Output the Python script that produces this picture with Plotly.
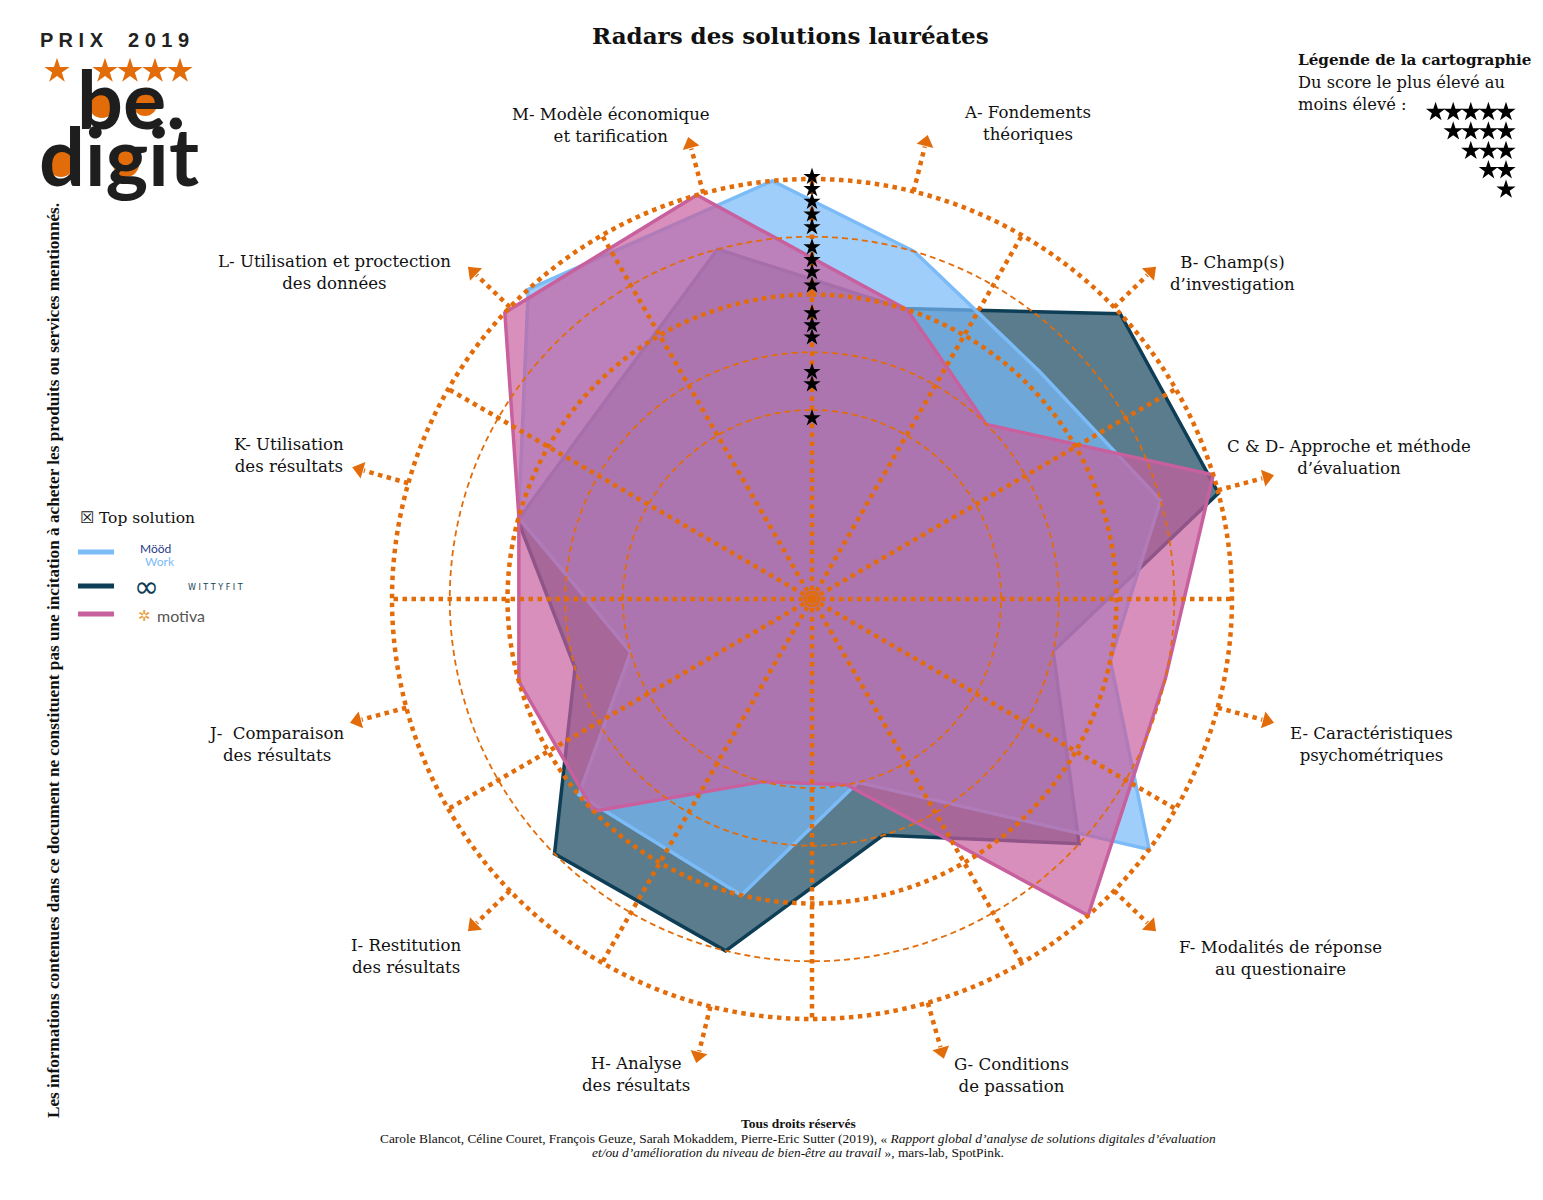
import plotly.graph_objects as go
import numpy as np

# page geometry: the html body adds an 8 px margin, so the figure is drawn from (8, 8)
OFF = 8
W, H = 1543 - OFF, 1200 - OFF
CX, CY = 812, 599            # centre of the radar in screen pixels (layout only)
PX_PER_UNIT = 57.75
R0 = -131.25 / PX_PER_UNIT   # radial value at the centre
RMAX = 6.3

# ---------------- data ----------------
axis_labels = [
    "A- Fondements<br>théoriques",
    "B- Champ(s)<br>d’investigation",
    "C & D- Approche et méthode<br>d’évaluation",
    "E- Caractéristiques<br>psychométriques",
    "F- Modalités de réponse<br>au questionaire",
    "G- Conditions<br>de passation",
    "H- Analyse<br>des résultats",
    "I- Restitution<br>des résultats",
    "J-  Comparaison<br>des résultats",
    "K- Utilisation<br>des résultats",
    "L- Utilisation et proctection<br>des données",
    "M- Modèle économique<br>et tarification",
]
axis_theta = [14, 46, 75, 105, 134, 164, 194, 226, 255, 286, 314, 345]
label_xy = [(1027, 123), (1232, 273), (1349, 457), (1371, 744), (1280, 958),
            (1011, 1075), (636, 1074), (406, 956), (276, 744), (289, 455),
            (334, 272), (611, 125)]

wittyfit_theta = [17.4, 47.2, 75.4, 102.2, 132.5, 163.3, 193.8, 225.3, 253.8, 285.0, 315.0, 344.9]
wittyfit_r = [3, 5, 5, 2, 4, 2, 4, 4, 2, 3, 2.7, 4]

moodwork_theta = [16.4, 45.0, 74.2, 101.6, 126.6, 166.0, 193.4, 230.0, 253.6, 285.5, 317.5, 354.6]
moodwork_r = [4, 3.3, 4, 3, 5, 1, 3, 3, 1, 3, 5, 5]

motiva_theta = [18.2, 45.0, 72.8, 102.7, 138.9, 169.5, 194.9, 225.8, 254.3, 285.7, 313.0, 344.1]
motiva_r = [3, 2, 5, 4, 5, 1, 1, 3, 3, 3, 5, 5]

ring_levels_thin = [1, 2, 4]
ring_levels_thick = [3, 5]
spoke_theta = [0, 30, 60, 90, 120, 150, 180, 210, 240, 270, 300, 330]
star_r = [5.04, 4.83, 4.61, 4.39, 4.17, 3.82, 3.60, 3.39, 3.16, 2.68, 2.47, 2.26, 1.66, 1.45, 0.86]

legend_star_counts = [5, 4, 3, 2, 1]

ORANGE = "#E36C0A"
C_WITTY_L, C_WITTY_F = "#0E3E55", "rgba(14,62,85,0.68)"
C_MOOD_L, C_MOOD_F = "#7BBBF7", "rgba(120,185,250,0.70)"
C_MOT_L, C_MOT_F = "#C8609E", "rgba(200,96,158,0.70)"

fig = go.Figure()

def closed(a):
    return list(a) + [a[0]]

# polygons (drawing order: wittyfit, moodwork, motiva)
for th, rr, lc, fc, nm in [
    (wittyfit_theta, wittyfit_r, C_WITTY_L, C_WITTY_F, "WITTYFIT"),
    (moodwork_theta, moodwork_r, C_MOOD_L, C_MOOD_F, "Mööd Work"),
    (motiva_theta, motiva_r, C_MOT_L, C_MOT_F, "motiva"),
]:
    fig.add_trace(go.Scatterpolar(theta=closed(th), r=closed(rr), mode="lines",
                                  fill="toself", fillcolor=fc,
                                  line=dict(color=lc, width=3.5), name=nm,
                                  showlegend=False, hoverinfo="skip"))

circ = np.linspace(0, 360, 361)
for lv in ring_levels_thin:
    fig.add_trace(go.Scatterpolar(theta=circ, r=[lv] * len(circ), mode="lines",
                                  line=dict(color=ORANGE, width=1.8, dash="6px,4px"),
                                  showlegend=False, hoverinfo="skip"))
for lv in ring_levels_thick:
    fig.add_trace(go.Scatterpolar(theta=circ, r=[lv] * len(circ), mode="lines",
                                  line=dict(color=ORANGE, width=4.5, dash="dot"),
                                  showlegend=False, hoverinfo="skip"))
for t in spoke_theta:
    fig.add_trace(go.Scatterpolar(theta=[t, t], r=[R0, 5], mode="lines",
                                  line=dict(color=ORANGE, width=4.5, dash="dot"),
                                  showlegend=False, hoverinfo="skip"))
# arrows towards the axis labels
for t in axis_theta:
    fig.add_trace(go.Scatterpolar(theta=[t, t], r=[5.0, 5.8], mode="lines",
                                  line=dict(color=ORANGE, width=4.5, dash="dot"),
                                  showlegend=False, hoverinfo="skip"))
fig.add_trace(go.Scatterpolar(theta=axis_theta, r=[5.88] * len(axis_theta), mode="markers",
                              marker=dict(symbol="triangle-up", size=15, color=ORANGE,
                                          angle=axis_theta),
                              showlegend=False, hoverinfo="skip"))
# centre ring
fig.add_trace(go.Scatterpolar(theta=[0], r=[R0], mode="markers",
                              marker=dict(symbol="circle-open", size=14, color=ORANGE,
                                          line=dict(width=3, color=ORANGE)),
                              showlegend=False, hoverinfo="skip"))
# stars on the vertical axis
fig.add_trace(go.Scatterpolar(theta=[0] * len(star_r), r=star_r, mode="markers",
                              marker=dict(symbol="star", size=13, color="black",
                                          line=dict(width=0)),
                              showlegend=False, hoverinfo="skip"))

# hidden pixel-space overlay for decorations (logo stars, legend stars)
logo_star_x = [57, 105, 130, 155, 180]
fig.add_trace(go.Scatter(x=logo_star_x, y=[71] * 5, mode="markers",
                         marker=dict(symbol="star", size=19, color=ORANGE, line=dict(width=0)),
                         xaxis="x", yaxis="y", showlegend=False, hoverinfo="skip"))
lsx, lsy = [], []
for i, n in enumerate(legend_star_counts):
    for k in range(n):
        lsx.append(1506 - k * 17.6)
        lsy.append(112 + i * 19.4)
fig.add_trace(go.Scatter(x=lsx, y=lsy, mode="markers",
                         marker=dict(symbol="star", size=14.5, color="black", line=dict(width=0)),
                         xaxis="x", yaxis="y", showlegend=False, hoverinfo="skip"))

def fx(x):
    return (x - OFF) / W

def fy(y):
    return 1 - (y - OFF) / H

Rpx = (RMAX - R0) * PX_PER_UNIT
fig.update_layout(
    width=W, height=H, paper_bgcolor="white", plot_bgcolor="rgba(0,0,0,0)",
    margin=dict(l=0, r=0, t=0, b=0), showlegend=False,
    xaxis=dict(visible=False, range=[OFF, OFF + W], domain=[0, 1], fixedrange=True),
    yaxis=dict(visible=False, range=[OFF + H, OFF], domain=[0, 1], fixedrange=True),
    polar=dict(
        domain=dict(x=[fx(CX - Rpx), fx(CX + Rpx)], y=[fy(CY + Rpx), fy(CY - Rpx)]),
        bgcolor="rgba(0,0,0,0)",
        radialaxis=dict(visible=False, range=[R0, RMAX]),
        angularaxis=dict(visible=False, rotation=90, direction="clockwise"),
    ),
)

ann = []
def add_text(x, y, text, size=16.6, family="DejaVu Serif", color="#111",
             xanchor="center", yanchor="middle", textangle=0, align="center"):
    ann.append(dict(x=fx(x), y=fy(y), xref="paper", yref="paper", text=text, showarrow=False,
                    font=dict(size=size, family=family, color=color),
                    xanchor=xanchor, yanchor=yanchor, textangle=textangle, align=align))

for (x, y), lab in zip(label_xy, axis_labels):
    add_text(x, y, lab)

add_text(790, 35, "<b>Radars des solutions lauréates</b>", size=23)

# top-right legend
add_text(1296, 60, "<b>Légende de la cartographie</b>", size=15.2, xanchor="left")
add_text(1296, 82, "Du score le plus élevé au", size=16.3, xanchor="left")
add_text(1296, 104, "moins élevé :", size=16.3, xanchor="left")

# left legend
add_text(78, 518, "☒ Top solution", size=15.5, xanchor="left")
add_text(138, 548, "Mööd", size=12, family="Lato", color="#1F3C88", xanchor="left")
add_text(143, 561, "Work", size=12, family="Lato", color="#7BBBF7", xanchor="left")
add_text(132, 586, "∞", size=30, family="DejaVu Sans", color="#0E3E55", xanchor="left")
add_text(186, 587, "W I T T Y F I T", size=8, family="DejaVu Sans", color="#0E3E55",
         xanchor="left")
add_text(136, 616, "✲", size=15, family="DejaVu Sans", color="#E8A040", xanchor="left")
add_text(155, 615, "motiva", size=16, family="Lato", color="#555", xanchor="left")

# vertical disclaimer
add_text(54, 661, "<b>Les informations contenues dans ce document ne constituent pas une "
         "incitation à acheter les produits ou services mentionnés.</b>",
         size=17.2, family="Liberation Serif", textangle=-90)

# footer
add_text(798, 1123, "<b>Tous droits réservés</b>", size=13.5, family="Liberation Serif")
add_text(798, 1138,
         "Carole Blancot, Céline Couret, François Geuze, Sarah Mokaddem, Pierre-Eric Sutter (2019), "
         "« <i>Rapport global d’analyse de solutions digitales d’évaluation</i>",
         size=13.4, family="Liberation Serif")
add_text(798, 1152,
         "<i>et/ou d’amélioration du niveau de bien-être au travail</i> », mars-lab, SpotPink.",
         size=13.4, family="Liberation Serif")

# logo text
add_text(72, 40, "<b>P R I X</b>", size=20, family="Liberation Sans", color="#222")
add_text(158, 40, "<b>2 0 1 9</b>", size=20, family="Liberation Sans", color="#222")
add_text(131, 97, "<b>be.</b>", size=81, family="Lato", color="#1E1E1E")
add_text(119, 155, "<b>digit</b>", size=81, family="Lato", color="#1E1E1E")

fig.update_layout(annotations=ann)

shapes = []
# legend lines
for yy, c in [(552, C_MOOD_L), (586, C_WITTY_L), (614, C_MOT_L)]:
    shapes.append(dict(type="line", xref="paper", yref="paper",
                       x0=fx(78), x1=fx(114), y0=fy(yy), y1=fy(yy),
                       line=dict(color=c, width=5)))
# orange fills inside the logo letters
for (ox, oy, rad) in [(102, 105, 13), (145, 104, 12), (61, 164, 13), (126, 164, 13)]:
    shapes.append(dict(type="circle", xref="paper", yref="paper", layer="below",
                       x0=fx(ox - rad), x1=fx(ox + rad), y0=fy(oy + rad), y1=fy(oy - rad),
                       fillcolor=ORANGE, line=dict(width=0)))
fig.update_layout(shapes=shapes)

fig.write_html("out.html")
